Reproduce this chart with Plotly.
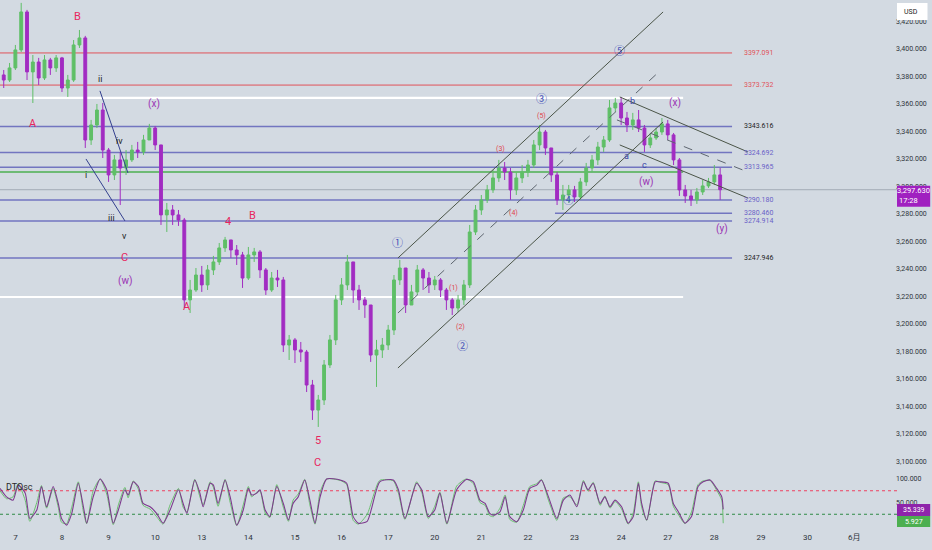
import plotly.graph_objects as go

# ---- data ----
day_labels = ["7", "8", "9", "10", "13", "14", "15", "16", "17", "20",
              "21", "22", "23", "24", "27", "28", "29", "30", "6月"]

# 3h bars, x in trading-day index (0 = the 7th)
bar_start = -0.25
bar_step = 0.125
first_open = 3381.1
closes = [
    3377.4, 3386.2, 3399.3, 3426.9, 3383.3, 3390.5, 3378.9, 3392.0, 3386.2, 3393.5,
    3371.6, 3377.4, 3402.9, 3408.0, 3333.8, 3344.7, 3355.6, 3326.5, 3308.4, 3319.3,
    3313.4, 3319.3, 3326.5, 3325.1, 3333.8, 3342.5, 3330.2, 3279.3, 3282.9, 3279.3,
    3275.6, 3217.5, 3224.7, 3235.6, 3228.4, 3239.3, 3245.1, 3255.3, 3261.1, 3253.8,
    3250.2, 3233.4, 3250.2, 3252.4, 3239.3, 3224.7, 3233.4, 3232.0, 3184.7, 3188.4,
    3181.1, 3179.6, 3155.6, 3137.4, 3144.7, 3170.2, 3188.4, 3217.5, 3228.4, 3245.1,
    3224.7, 3217.5, 3213.8, 3177.4, 3181.1, 3184.7, 3195.6, 3232.0, 3240.7, 3213.8,
    3223.3, 3239.3, 3233.4, 3228.4, 3232.0, 3224.7, 3217.5, 3211.6, 3217.5, 3228.4,
    3266.9, 3282.9, 3290.2, 3297.5, 3306.2, 3313.4, 3310.5, 3297.5, 3306.2, 3310.5,
    3315.6, 3330.2, 3339.6, 3328.0, 3308.4, 3290.2, 3293.8, 3297.5, 3292.4, 3303.3,
    3313.4, 3319.3, 3328.7, 3333.8, 3357.1, 3360.7, 3349.8, 3344.7, 3348.4, 3342.5,
    3330.2, 3335.3, 3339.6, 3345.5, 3337.5, 3319.3, 3297.5, 3293.1, 3290.2, 3296.0,
    3300.4, 3303.3, 3308.4, 3297.63]
highs = [
    3384.7, 3389.8, 3402.9, 3433.5, 3428.4, 3395.6, 3393.5, 3395.6, 3393.5, 3395.6,
    3394.2, 3381.1, 3406.5, 3413.8, 3409.5, 3348.4, 3360.0, 3360.7, 3328.0, 3322.9,
    3325.1, 3326.5, 3330.2, 3332.4, 3337.5, 3345.5, 3344.0, 3330.2, 3288.0, 3286.5,
    3282.9, 3277.1, 3232.0, 3240.7, 3242.2, 3242.9, 3249.5, 3258.9, 3263.3, 3261.1,
    3257.4, 3252.4, 3256.0, 3255.3, 3253.8, 3240.7, 3237.8, 3239.3, 3234.2, 3192.0,
    3189.8, 3186.9, 3181.1, 3159.3, 3148.4, 3173.8, 3192.0, 3221.1, 3233.4, 3250.2,
    3245.1, 3228.4, 3219.6, 3213.8, 3188.4, 3189.8, 3199.3, 3235.6, 3246.6, 3240.7,
    3228.4, 3242.9, 3240.7, 3237.8, 3234.9, 3233.4, 3226.2, 3218.9, 3221.1, 3232.0,
    3272.0, 3286.5, 3293.8, 3301.1, 3312.0, 3319.3, 3317.8, 3313.4, 3310.5, 3315.6,
    3319.3, 3333.8, 3344.7, 3341.1, 3326.5, 3310.5, 3301.1, 3301.1, 3300.4, 3306.2,
    3317.1, 3322.9, 3332.4, 3336.7, 3362.9, 3364.4, 3365.1, 3354.2, 3353.5, 3355.6,
    3344.7, 3338.9, 3342.5, 3349.8, 3348.4, 3338.9, 3320.7, 3301.1, 3297.5, 3298.9,
    3304.7, 3306.2, 3315.6, 3313.4]
lows = [
    3371.6, 3376.0, 3384.7, 3397.8, 3377.4, 3360.7, 3373.8, 3377.4, 3381.1, 3383.3,
    3368.7, 3365.1, 3376.0, 3400.7, 3328.0, 3330.2, 3342.5, 3320.7, 3303.3, 3304.7,
    3286.5, 3308.4, 3317.8, 3320.7, 3322.9, 3333.8, 3326.5, 3272.0, 3266.9, 3272.0,
    3271.3, 3211.6, 3208.0, 3223.3, 3223.3, 3224.7, 3235.6, 3242.9, 3252.4, 3248.0,
    3242.9, 3226.2, 3232.0, 3245.1, 3233.4, 3221.1, 3223.3, 3226.9, 3179.6, 3173.8,
    3171.6, 3172.4, 3150.5, 3130.2, 3125.1, 3141.1, 3168.0, 3184.7, 3213.8, 3224.7,
    3215.3, 3210.2, 3204.4, 3172.4, 3154.2, 3175.3, 3181.1, 3192.0, 3228.4, 3208.0,
    3213.8, 3221.1, 3224.7, 3222.5, 3224.7, 3219.6, 3210.2, 3206.5, 3208.7, 3213.8,
    3226.2, 3264.7, 3279.3, 3288.0, 3295.3, 3303.3, 3304.7, 3290.2, 3293.8, 3302.5,
    3306.9, 3313.4, 3326.5, 3322.9, 3303.3, 3286.5, 3282.9, 3288.0, 3288.7, 3290.2,
    3300.4, 3310.5, 3315.6, 3325.1, 3332.4, 3354.2, 3344.7, 3339.6, 3341.1, 3339.6,
    3325.1, 3328.0, 3333.8, 3337.5, 3333.8, 3315.6, 3293.1, 3288.0, 3285.8, 3287.3,
    3293.8, 3298.9, 3301.1, 3290.2]
last_price = 3297.63

# DTOsc turning points (x in day index)
osc_x = [
    -0.33, -0.19, -0.05, 0.06, 0.21, 0.31, 0.46, 0.56, 0.67, 0.81,
    0.92, 0.99, 1.10, 1.21, 1.35, 1.46, 1.53, 1.67, 1.82, 1.96,
    2.10, 2.21, 2.35, 2.42, 2.53, 2.64, 2.74, 2.89, 3.03, 3.17,
    3.32, 3.50, 3.60, 3.68, 3.85, 3.96, 4.03, 4.18, 4.25, 4.35,
    4.50, 4.61, 4.75, 4.89, 5.00, 5.07, 5.18, 5.25, 5.36, 5.46,
    5.61, 5.75, 5.86, 5.96, 6.07, 6.21, 6.32, 6.43, 6.54, 6.68,
    6.97, 7.11, 7.25, 7.36, 7.55, 7.82, 8.11, 8.22, 8.36, 8.61,
    8.72, 8.86, 9.00, 9.11, 9.26, 9.47, 9.68, 9.83, 9.97, 10.08,
    10.18, 10.26, 10.40, 10.51, 10.61, 10.76, 10.90, 11.04, 11.19, 11.29,
    11.44, 11.62, 11.76, 11.90, 12.05, 12.19, 12.29, 12.40, 12.55, 12.65,
    12.76, 12.87, 13.01, 13.15, 13.26, 13.37, 13.44, 13.55, 13.73, 13.83,
    14.01, 14.12, 14.23, 14.37, 14.51, 14.65, 14.76, 14.91, 15.05, 15.16,
    15.19]
osc_main = [
    80, 62, 55, 87, 70, 16, 34, 84, 41, 84,
    48, 16, 2, 27, 91, 41, 6, 62, 100, 77,
    6, 34, 77, 66, 94, 84, 48, 41, 27, 6,
    34, 77, 48, 27, 98, 70, 41, 91, 87, 48,
    98, 62, 2, 34, 80, 66, 70, 77, 34, 20,
    84, 48, 13, 48, 62, 98, 55, 6, 62, 100,
    98, 91, 20, 6, 10, 94, 98, 77, 16, 91,
    77, 20, 34, 70, 6, 77, 99, 94, 55, 48,
    27, 23, 30, 62, 20, 9, 34, 80, 87, 98,
    62, 16, 55, 66, 41, 94, 77, 91, 48, 62,
    41, 55, 41, 6, 20, 91, 48, 13, 94, 94,
    91, 48, 30, 6, 20, 84, 94, 98, 80, 62,
    35.339]
osc_fast = [
    75, 58, 62, 90, 55, 10, 50, 86, 38, 80,
    40, 8, 5, 40, 94, 30, 5, 75, 100, 68,
    3, 45, 82, 60, 96, 78, 44, 36, 20, 4,
    45, 80, 40, 30, 99, 62, 45, 94, 82, 42,
    99, 50, 1, 45, 84, 62, 72, 75, 28, 18,
    88, 40, 10, 55, 68, 99, 45, 4, 72, 100,
    97, 88, 12, 4, 25, 97, 96, 70, 14, 94,
    72, 16, 42, 72, 4, 85, 100, 90, 50, 44,
    22, 20, 38, 66, 14, 8, 44, 84, 90, 99,
    55, 12, 60, 62, 45, 97, 74, 93, 44, 64,
    38, 52, 36, 4, 28, 94, 40, 12, 96, 93,
    88, 42, 24, 5, 30, 88, 96, 97, 76, 55,
    5.927]
osc_levels = [75, 25]

# horizontal levels
red_levels = [3397.091, 3373.732]
blue_levels = [3343.616, 3324.692, 3313.965, 3290.180, 3274.914, 3247.946]
blue_label_dark = [3343.616, 3247.946]
short_level = 3280.460
white_levels = [3364.4, 3219.6]
green_level = 3310.6

# drawn trend lines: (d0, p0, d1, p1, colour, dash)
trend_lines = [
    (8.21, 3248.0, 13.90, 3426.9, "#4b5548", "solid"),
    (8.21, 3168.0, 13.90, 3346.9, "#4b5548", "solid"),
    (8.21, 3208.0, 13.88, 3385.5, "#5e6670", "dash"),
    (12.97, 3365.1, 15.72, 3325.1, "#4b5548", "solid"),
    (12.91, 3348.4, 15.72, 3310.5, "#5e6670", "dash"),
    (12.97, 3330.2, 15.72, 3291.6, "#4b5548", "solid"),
    (1.815, 3369.5, 2.416, 3309.8, "#34408f", "solid"),
    (1.515, 3320.0, 2.352, 3274.9, "#34408f", "solid"),
]

# wave labels: (text, d, price)
crimson_labels = [("B", 1.34, 3423.3), ("A", 0.38, 3345.5), ("C", 2.35, 3248.7),
                  ("4", 4.56, 3274.2), ("B", 5.08, 3278.6), ("A", 3.68, 3212.4),
                  ("5", 6.49, 3114.9), ("C", 6.49, 3098.9)]
roman_labels = [("ii", 1.815, 3378.2), ("iv", 2.245, 3333.1), ("i", 1.515, 3308.4),
                ("iii", 2.073, 3277.1), ("v", 2.352, 3264.0)]
purple_labels = [("(x)", 2.97, 3360.0), ("(w)", 2.35, 3231.3), ("(x)", 14.15, 3360.7),
                 ("(w)", 13.53, 3303.3), ("(y)", 15.16, 3269.1)]
circle_labels = [("①", 8.21, 3258.2), ("②", 9.60, 3183.3), ("③", 11.28, 3362.9),
                 ("④", 11.88, 3289.5), ("⑤", 12.97, 3398.5)]
minor_labels = [("(1)", 9.41, 3226.2), ("(2)", 9.56, 3197.8), ("(3)", 10.42, 3327.3),
                ("(4)", 10.70, 3280.7), ("(5)", 11.28, 3351.3)]
abc_labels = [("a", 13.12, 3322.2), ("b", 13.25, 3362.2), ("c", 13.51, 3315.6)]

# ---- figure ----
BG = "#d3dae2"
X_RANGE = [-0.33, 18.92]
P_RANGE = [3093.8, 3435.6]
PLOT_H = 531.0
PRICE_DOM = [(PLOT_H - 470) / PLOT_H, 1.0]
OSC_DOM = [0.0, (PLOT_H - 471) / PLOT_H]
LINE_END = 15.38
LABEL_X = 15.6

bar_x = [bar_start + i * bar_step for i in range(len(closes))]
opens = [first_open] + closes[:-1]
highs = [max(h, o, c) for h, o, c in zip(highs, opens, closes)]
lows = [min(l, o, c) for l, o, c in zip(lows, opens, closes)]


def price_paper(p):
    return PRICE_DOM[0] + (p - P_RANGE[0]) / (P_RANGE[1] - P_RANGE[0]) * (PRICE_DOM[1] - PRICE_DOM[0])


fig = go.Figure()
fig.add_trace(go.Candlestick(
    x=bar_x, open=opens, high=highs, low=lows, close=closes,
    increasing=dict(line=dict(color="#5fbf67", width=1), fillcolor="#5fbf67"),
    decreasing=dict(line=dict(color="#a22cc2", width=1), fillcolor="#a22cc2"),
    whiskerwidth=0, hoverinfo="skip", showlegend=False, xaxis="x", yaxis="y"))

fig.add_trace(go.Scatter(x=osc_x, y=osc_fast, mode="lines", yaxis="y2",
                         line=dict(color="#6cc070", width=1, shape="spline", smoothing=0.6),
                         hoverinfo="skip", showlegend=False))
fig.add_trace(go.Scatter(x=osc_x, y=osc_main, mode="lines", yaxis="y2",
                         line=dict(color="#7d3a8e", width=1.1, shape="spline", smoothing=0.6),
                         hoverinfo="skip", showlegend=False))

shapes = []


def hline(y, x0, x1, color, width, dash="solid", yref="y"):
    shapes.append(dict(type="line", xref="x", yref=yref, x0=x0, x1=x1, y0=y, y1=y,
                       line=dict(color=color, width=width, dash=dash), layer="below"))


for p in white_levels:
    hline(p, X_RANGE[0], 14.33, "#ffffff", 2.2)
for p in red_levels:
    hline(p, X_RANGE[0], LINE_END, "#e0525a", 1)
for p in blue_levels:
    hline(p, X_RANGE[0], LINE_END, "#7275c0", 1.5)
hline(short_level, 11.58, LINE_END, "#7275c0", 1.5)
hline(green_level, X_RANGE[0], 14.33, "#4caf50", 1.5)
hline(last_price, X_RANGE[0], X_RANGE[1], "#a3abb5", 1)
for lv, col in zip(osc_levels, ["#ee4060", "#2f8a45"]):
    hline(lv, X_RANGE[0], X_RANGE[1], col, 1, "dot", "y2")

for d0, p0, d1, p1, col, dash in trend_lines:
    shapes.append(dict(type="line", xref="x", yref="y", x0=d0, y0=p0, x1=d1, y1=p1,
                       line=dict(color=col, width=1, dash=dash)))

# right-hand boxes
RX0, RX1 = 1.0, 1.037
cy = price_paper(last_price)
shapes.append(dict(type="rect", xref="paper", yref="paper", x0=RX0, x1=RX1,
                   y0=cy - 17 / PLOT_H, y1=cy + 4 / PLOT_H, fillcolor="#a020c0", line=dict(width=0)))
shapes.append(dict(type="rect", xref="paper", yref="paper", x0=RX0, x1=RX1,
                   y0=(PLOT_H - 516) / PLOT_H, y1=(PLOT_H - 504) / PLOT_H, fillcolor="#8e24aa", line=dict(width=0)))
shapes.append(dict(type="rect", xref="paper", yref="paper", x0=RX0, x1=RX1,
                   y0=(PLOT_H - 527) / PLOT_H, y1=(PLOT_H - 516) / PLOT_H, fillcolor="#4caf50", line=dict(width=0)))
shapes.append(dict(type="rect", xref="paper", yref="paper", x0=RX0, x1=RX1 - 0.003,
                   y0=(PLOT_H - 20) / PLOT_H, y1=(PLOT_H - 3) / PLOT_H, fillcolor="#ffffff", line=dict(width=0)))

ann = []


def label(text, x, y, color, size, xref="x", yref="y", xanchor="center"):
    ann.append(dict(text=text, x=x, y=y, xref=xref, yref=yref, showarrow=False,
                    xanchor=xanchor, yanchor="middle", font=dict(color=color, size=size)))


for p in red_levels:
    label(f"{p:.3f}", LABEL_X, p, "#e0525a", 7, xanchor="left")
for p in blue_levels + [short_level]:
    col = "#1e1e1e" if p in blue_label_dark else "#6a62c8"
    label(f"{p:.3f}", LABEL_X, p, col, 7, xanchor="left")

for t, d, p in crimson_labels:
    label(t, d, p, "#e8265e", 11)
for t, d, p in roman_labels:
    label(t, d, p, "#1f1f1f", 9)
for t, d, p in purple_labels:
    label(t, d, p, "#9a32b4", 10)
for t, d, p in circle_labels:
    label(t, d, p, "#4450b8", 11)
for t, d, p in minor_labels:
    label(t, d, p, "#e0434d", 7)
for t, d, p in abc_labels:
    label(t, d, p, "#3a46a8", 9)

label("DTOsc", 0.004, (PLOT_H - 487) / PLOT_H, "#2a2a2a", 9, "paper", "paper", "left")
label("USD", 1.006, (PLOT_H - 12) / PLOT_H, "#222222", 7, "paper", "paper", "left")
label(f"{last_price:,.3f}", 1.0185, cy - 1 / PLOT_H, "#ffffff", 7.5, "paper", "paper")
label("17:28", 1.013, cy - 11 / PLOT_H, "#ffffff", 7.5, "paper", "paper")
label(f"{osc_main[-1]:.3f}", 1.0185, (PLOT_H - 510) / PLOT_H, "#ffffff", 7, "paper", "paper")
label(f"{osc_fast[-1]:.3f}", 1.0185, (PLOT_H - 521.5) / PLOT_H, "#ffffff", 7, "paper", "paper")

axis_font = dict(size=7, color="#2f343b")
fig.update_layout(
    width=932, height=550,
    margin=dict(l=0, r=35, t=0, b=19),
    paper_bgcolor=BG, plot_bgcolor=BG,
    font=dict(family="Roboto, 'Noto Sans CJK SC', sans-serif"),
    showlegend=False,
    xaxis=dict(range=X_RANGE, anchor="y2", tickvals=list(range(len(day_labels))),
               ticktext=day_labels, showgrid=False, zeroline=False, showline=False,
               ticks="", rangeslider=dict(visible=False), tickfont=dict(size=8, color="#2f343b")),
    yaxis=dict(domain=PRICE_DOM, range=P_RANGE, side="right", anchor="x",
               tickvals=list(range(3100, 3421, 20)), tickformat=",.3f", ticklabelstandoff=-2,
               showgrid=False, zeroline=False, ticks="", tickfont=axis_font),
    yaxis2=dict(domain=OSC_DOM, range=[-10.6, 117], side="right", anchor="x",
                tickvals=[50, 100], tickformat=".3f", ticklabelstandoff=-2,
                showgrid=False, zeroline=False, ticks="", tickfont=axis_font),
    shapes=shapes,
    annotations=ann,
)

fig.write_html("out.html", config={"displayModeBar": False},
               post_script="document.body.style.margin='0';")
